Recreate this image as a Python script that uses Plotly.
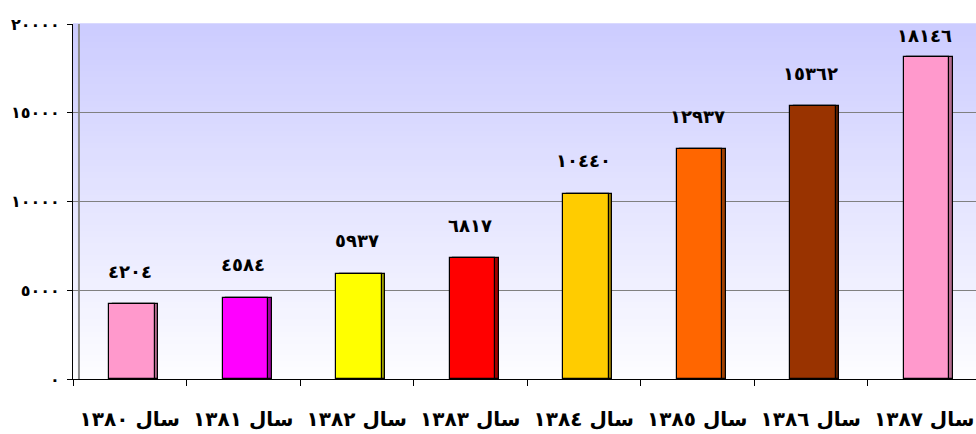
import plotly.graph_objects as go

years = ['سال ١٣٨٠', 'سال ١٣٨١', 'سال ١٣٨٢', 'سال ١٣٨٣',
         'سال ١٣٨٤', 'سال ١٣٨٥', 'سال ١٣٨٦', 'سال ١٣٨٧']
values = [4204, 4584, 5937, 6817, 10440, 12937, 15362, 18146]
value_labels = ['٤٢٠٤', '٤٥٨٤', '٥٩٣٧', '٦٨١٧', '١٠٤٤٠', '١٢٩٣٧', '١٥٣٦٢', '١٨١٤٦']
colors = ['#ff99cc', '#ff00ff', '#ffff00', '#ff0000', '#ffcc00', '#ff6600', '#993300', '#ff99cc']
side_colors = ['#b36b8f', '#a000a0', '#a0a000', '#a00000', '#a08000', '#a04000', '#5c1f00', '#b36b8f']
y_ticks = [0, 5000, 10000, 15000, 20000]
y_tick_text = ['٠', '٥٠٠٠', '١٠٠٠٠', '١٥٠٠٠', '٢٠٠٠٠']
y_max = 20000

font = dict(family='DejaVu Sans', size=18, color='black')
plot_h = 434 - 24 - 55

fig = go.Figure()
# 3D-ish side strip behind each bar
fig.add_bar(x=years, y=values, width=0.4, offset=-0.15,
            marker=dict(color=side_colors, line=dict(color='black', width=1.2)),
            hoverinfo='skip', showlegend=False)
fig.add_bar(x=years, y=values, width=0.4, offset=-0.18,
            marker=dict(color=colors, line=dict(color='black', width=1.2)),
            showlegend=False)

# value labels above bars, kept inside the plot area like excel does
for yr, v, t in zip(years, values, value_labels):
    gap = (y_max - v) * plot_h / y_max
    fig.add_annotation(x=yr, y=v, text='<b>' + t + '</b>', showarrow=False,
                       yshift=min(33, gap - 11), font=font)

# vertical gradient background: lavender at top to white at bottom
n = 60
top = (204, 204, 255)
bot = (253, 253, 255)
shapes = []
for i in range(n):
    f = (i + 0.5) / n
    c = tuple(round(bot[k] + (top[k] - bot[k]) * f) for k in range(3))
    shapes.append(dict(type='rect', xref='x domain', yref='y domain',
                       x0=0, x1=1, y0=i / n, y1=(i + 1) / n + 0.002,
                       fillcolor='rgb(%d,%d,%d)' % c, line=dict(width=0), layer='below'))
# back wall edge line
shapes.append(dict(type='line', xref='x domain', yref='y domain', x0=0.0066, x1=0.0066,
                   y0=0, y1=1, line=dict(color='#8c8c8c', width=2), layer='below'))

fig.update_layout(
    width=976, height=434,
    margin=dict(l=73, r=0, t=24, b=55, autoexpand=False),
    paper_bgcolor='white', plot_bgcolor='white',
    barmode='overlay', bargap=0,
    shapes=shapes,
    font=font,
)
fig.update_xaxes(range=[-0.5, 7.456], showline=True, linecolor='black', linewidth=1,
                 ticks='outside', ticklen=6, tickcolor='black', tickson='boundaries',
                 tickfont=dict(family='DejaVu Sans', size=20, color='black'),
                 tickprefix='<b>', ticksuffix='</b>', showgrid=False,
                 automargin=False, ticklabelstandoff=22)
fig.update_yaxes(range=[0, y_max], tickvals=y_ticks, ticktext=['<b>' + t + '</b>' for t in y_tick_text],
                 showline=True, linecolor='black', linewidth=1, ticks='outside', ticklen=5,
                 tickcolor='black', showgrid=True, gridcolor='#808080', gridwidth=1,
                 zeroline=False, automargin=False, ticklabelstandoff=4,
                 tickfont=dict(family='DejaVu Sans', size=16, color='black'))

fig.write_html("out.html", config={'displayModeBar': False},
               post_script="document.body.style.margin='0';")
